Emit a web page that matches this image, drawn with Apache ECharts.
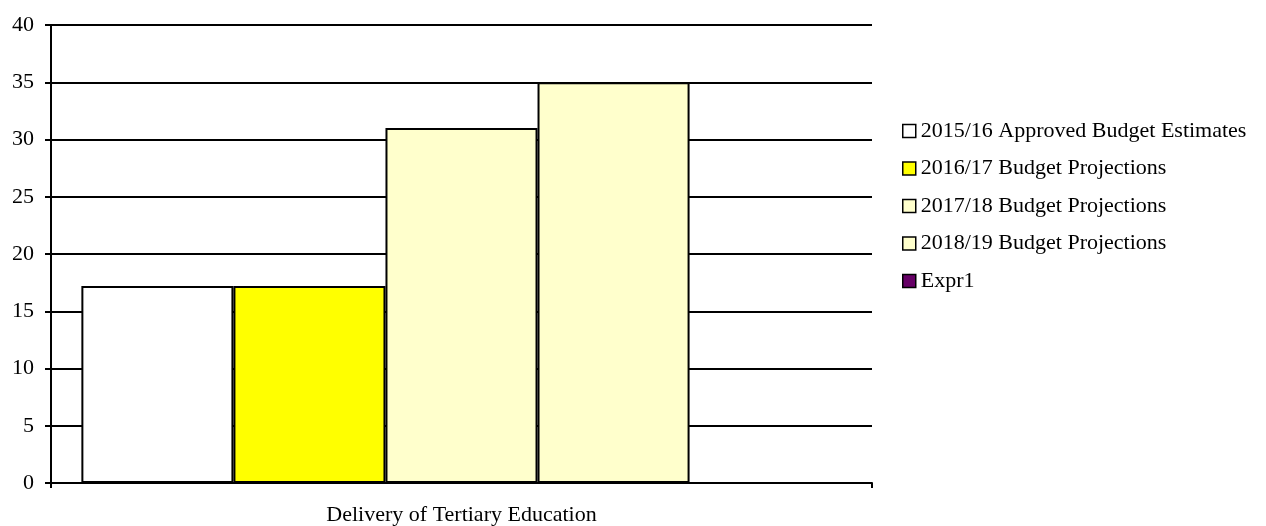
<!DOCTYPE html>
<html>
<head>
<meta charset="utf-8">
<script src="https://cdn.jsdelivr.net/npm/echarts@6/dist/echarts.min.js"></script>
<style>html,body{margin:0;padding:0;background:#fff;}#c{width:1266px;height:526px;}</style>
</head>
<body>
<div id="c"></div>
<script>
const categories = ['Delivery of Tertiary Education'];
const seriesNames = ['2015/16 Approved Budget Estimates','2016/17 Budget Projections','2017/18 Budget Projections','2018/19 Budget Projections','Expr1'];
const v2015 = [17.2];
const v2016 = [17.2];
const v2017 = [31];
const v2018 = [35];
const vExpr1 = [0];
const colors = ['#ffffff','#ffff00','#ffffcc','#ffffcc','#660066'];
const allValues = [v2015, v2016, v2017, v2018, vExpr1];

const font = 'Liberation Serif';
const fs = 22;
const chart = echarts.init(document.getElementById('c'));
chart.setOption({
  animation: false,
  backgroundColor: '#fff',
  textStyle: { fontFamily: font, color: '#000' },
  grid: { left: 51, right: 394, top: 25, bottom: 43, containLabel: false },
  legend: {
    orient: 'vertical',
    left: 902,
    top: 120,
    padding: 0,
    itemWidth: 13,
    itemHeight: 13,
    itemGap: 15.5,
    icon: 'rect',
    itemStyle: { borderColor: '#000', borderWidth: 1.5 },
    textStyle: { fontFamily: font, fontSize: fs, color: '#000', lineHeight: 22 },
    data: seriesNames
  },
  xAxis: {
    type: 'category',
    data: categories,
    axisLine: { lineStyle: { color: '#000', width: 2 } },
    axisTick: { show: true, length: 5, lineStyle: { color: '#000', width: 2 } },
    axisLabel: { fontFamily: font, fontSize: fs, color: '#000', margin: 21 }
  },
  yAxis: {
    type: 'value',
    min: 0, max: 40, interval: 5,
    axisLine: { show: true, lineStyle: { color: '#000', width: 2 } },
    axisTick: { show: true, length: 6, lineStyle: { color: '#000', width: 2 } },
    axisLabel: { fontFamily: font, fontSize: fs, color: '#000', margin: 17 },
    splitLine: { show: true, lineStyle: { color: '#000', width: 2 } }
  },
  series: seriesNames.map((n, i) => ({
    name: n,
    type: 'bar',
    data: allValues[i],
    barGap: '0%',
    barCategoryGap: '7.4%',
    itemStyle: { color: colors[i], borderColor: '#000', borderWidth: 2 }
  }))
});
</script>
</body>
</html>
